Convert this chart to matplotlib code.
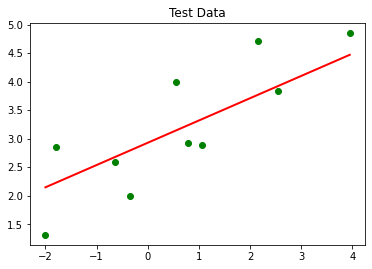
import numpy as np
import matplotlib.pyplot as plt

# test points
x_test = np.array([-2.0, -1.80, -0.63, -0.35, 0.555, 0.78, 1.06, 2.16, 2.55, 3.95])
y_test = np.array([1.32, 2.85, 2.59, 1.99, 3.99, 2.92, 2.89, 4.71, 3.83, 4.85])

# fitted line coefficients
intercept = 2.93
slope = 0.39

y_pred = intercept + slope * x_test

plt.figure(figsize=(6, 4), dpi=72)
plt.scatter(x_test, y_test, color='green')
plt.plot(x_test, y_pred, color='red', linewidth=2)
plt.title('Test Data')
plt.savefig('out.png', dpi=72, bbox_inches='tight')
